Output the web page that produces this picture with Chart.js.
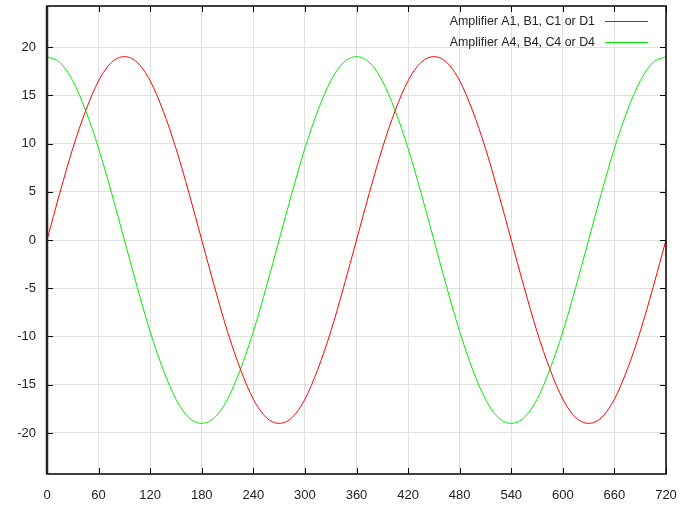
<!DOCTYPE html>
<html>
<head>
<meta charset="utf-8">
<script src="https://cdn.jsdelivr.net/npm/chart.js@4/dist/chart.umd.min.js"></script>
<style>
  html, body { margin: 0; padding: 0; background: #fff; }
  #wrap { width: 684px; height: 510px; }
</style>
</head>
<body>
<div id="wrap"><canvas id="c" width="684" height="510"></canvas></div>
<script>
// angle samples (degrees) and values
const angles = [0,15,30,45,60,75,90,105,120,135,150,165,180,195,210,225,240,255,270,285,300,315,330,345,
  360,375,390,405,420,435,450,465,480,495,510,525,540,555,570,585,600,615,630,645,660,675,690,705,720];
const ampA1 = [0,4.9,9.5,13.4,16.5,18.4,19,18.4,16.5,13.4,9.5,4.9,0,-4.9,-9.5,-13.4,-16.5,-18.4,-19,-18.4,-16.5,-13.4,-9.5,-4.9,
  0,4.9,9.5,13.4,16.5,18.4,19,18.4,16.5,13.4,9.5,4.9,0,-4.9,-9.5,-13.4,-16.5,-18.4,-19,-18.4,-16.5,-13.4,-9.5,-4.9,0];
const ampA4 = [19,18.4,16.5,13.4,9.5,4.9,0,-4.9,-9.5,-13.4,-16.5,-18.4,-19,-18.4,-16.5,-13.4,-9.5,-4.9,0,4.9,9.5,13.4,16.5,18.4,
  19,18.4,16.5,13.4,9.5,4.9,0,-4.9,-9.5,-13.4,-16.5,-18.4,-19,-18.4,-16.5,-13.4,-9.5,-4.9,0,4.9,9.5,13.4,16.5,18.4,19];
const seriesNames = ["Amplifier A1, B1, C1 or D1", "Amplifier A4, B4, C4 or D4"];
const seriesColors = ["#ff0000", "#00ee00"];
const xTicks = [0,60,120,180,240,300,360,420,480,540,600,660,720];
const yTicks = [-20,-15,-10,-5,0,5,10,15,20];

const FONT = "Liberation Sans, Arial, sans-serif";
const TXT = "#222";

function pts(ys) {
  return angles.map((a, i) => ({ x: a, y: ys[i] }));
}

function noPad(s) {
  s.paddingTop = 0; s.paddingBottom = 0; s.paddingLeft = 0; s.paddingRight = 0;
}

// gnuplot-like frame: border, inward ticks (mirrored), key in top right
const frame = {
  id: "frame",
  afterDatasetsDraw(chart) {
    const { ctx, chartArea: a, scales } = chart;
    ctx.save();
    ctx.strokeStyle = "#000";
    ctx.lineWidth = 1;
    ctx.beginPath();
    xTicks.forEach(v => {
      const x = Math.round(scales.x.getPixelForValue(v)) + 0.5;
      ctx.moveTo(x, a.bottom); ctx.lineTo(x, a.bottom - 6);
      ctx.moveTo(x, a.top); ctx.lineTo(x, a.top + 6);
    });
    yTicks.forEach(v => {
      const y = Math.round(scales.y.getPixelForValue(v)) + 0.5;
      ctx.moveTo(a.left, y); ctx.lineTo(a.left + 6, y);
      ctx.moveTo(a.right, y); ctx.lineTo(a.right - 6, y);
    });
    ctx.stroke();
    ctx.lineWidth = 1.5;
    ctx.strokeRect(a.left, a.top, a.right - a.left, a.bottom - a.top);
    ctx.beginPath();
    ctx.lineWidth = 2.5;
    ctx.strokeStyle = "#222";
    ctx.moveTo(a.left, a.top); ctx.lineTo(a.left, a.bottom);
    ctx.stroke();

    // key
    ctx.font = "12.4px " + FONT;
    ctx.textAlign = "right";
    ctx.textBaseline = "middle";
    seriesNames.forEach((n, i) => {
      const y = a.top + 16 + i * 21;
      ctx.fillStyle = TXT;
      ctx.fillText(n, a.right - 71, y);
      ctx.strokeStyle = seriesColors[i];
      ctx.lineWidth = 1;
      ctx.beginPath();
      ctx.moveTo(a.right - 61, y - 0.5); ctx.lineTo(a.right - 18, y - 0.5);
      ctx.stroke();
    });
    ctx.restore();
  }
};

new Chart(document.getElementById("c"), {
  type: "line",
  data: {
    datasets: [
      { label: seriesNames[0], data: pts(ampA1), borderColor: seriesColors[0], borderWidth: 1, pointRadius: 0, cubicInterpolationMode: "monotone" },
      { label: seriesNames[1], data: pts(ampA4), borderColor: seriesColors[1], borderWidth: 1, pointRadius: 0, cubicInterpolationMode: "monotone" },
    ],
  },
  options: {
    responsive: false,
    animation: false,
    layout: { padding: { top: 6, right: 18, left: 0, bottom: 0 } },
    plugins: { legend: { display: false }, tooltip: { enabled: false } },
    scales: {
      x: {
        type: "linear", min: 0, max: 720,
        afterBuildTicks: s => { s.ticks = xTicks.map(v => ({ value: v })); },
        afterFit: s => { s.height = 36; noPad(s); },
        grid: { color: "#e0e0e0", drawTicks: false },
        border: { display: false },
        ticks: { color: TXT, font: { family: FONT, size: 13 }, padding: 14, maxRotation: 0 },
      },
      y: {
        min: -24.25, max: 24.25,
        afterBuildTicks: s => { s.ticks = yTicks.map(v => ({ value: v })); },
        afterFit: s => { s.width = 47; noPad(s); },
        grid: { color: "#e0e0e0", drawTicks: false },
        border: { display: false },
        ticks: { color: TXT, font: { family: FONT, size: 13 }, padding: 11 },
      },
    },
  },
  plugins: [frame],
});
</script>
</body>
</html>
